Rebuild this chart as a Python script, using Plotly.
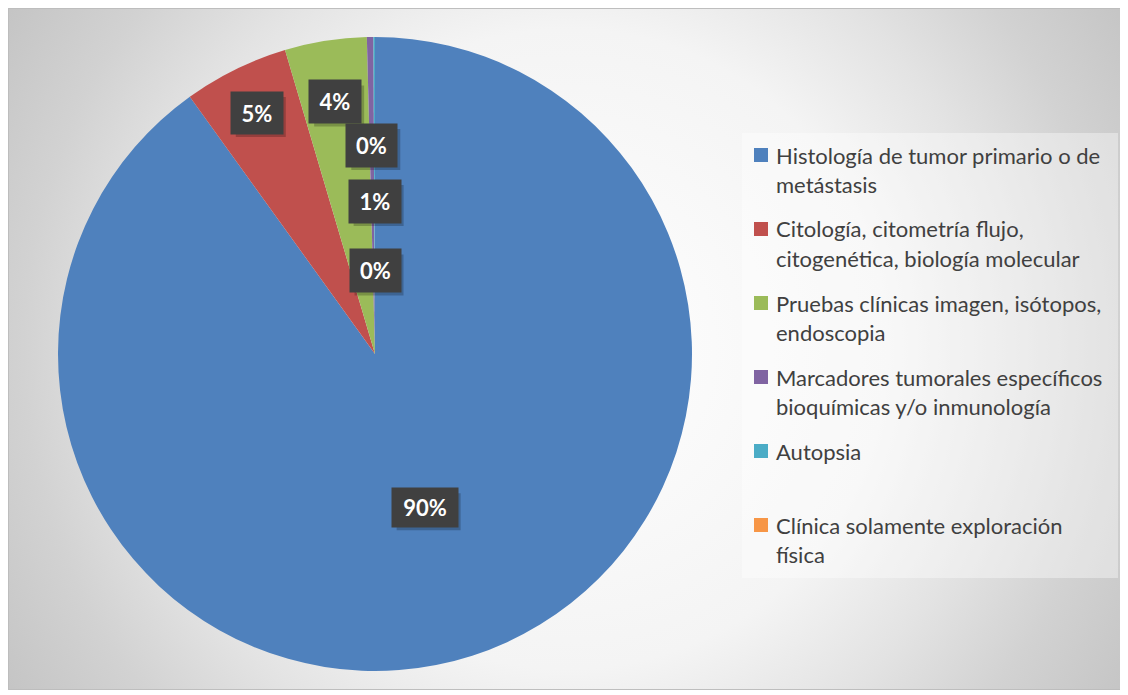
import math
import base64
import plotly.graph_objects as go

# ---------------- data ----------------
categories = [
    "Histología de tumor primario o de<br>metástasis",
    "Citología, citometría flujo,<br>citogenética, biología molecular",
    "Pruebas clínicas imagen, isótopos,<br>endoscopia",
    "Marcadores tumorales específicos<br>bioquímicas y/o inmunología",
    "Autopsia",
    "Clínica solamente exploración<br>física",
]
values = [90.07, 5.35, 4.17, 0.33, 0.08, 0.0]
label_text = ["90%", "5%", "4%", "0%", "1%", "0%"]
colors = ["#4F81BD", "#C0504D", "#9BBB59", "#8064A2", "#4BACC6", "#F79646"]

# ---------------- layout constants ----------------
W, H = 1120, 682
OFF = 8  # page body margin (screen coordinates below include it)
CX, CY, R = 375, 354, 317  # pie centre / radius in screen px
label_radius = [0.51, 0.847, 0.805, 0.658, 0.481, 0.262]
label_box = [(64, 37), (50, 40), (50, 41), (49, 41), (50, 41), (49, 41)]


def px(x):
    return (x - OFF) / W


def py(y):
    return 1 - (y - OFF) / H


fig = go.Figure()
fig.add_trace(go.Pie(
    labels=[c.replace("<br>", " ") for c in categories],
    values=values,
    marker=dict(colors=colors, line=dict(width=0)),
    sort=False,
    direction="clockwise",
    rotation=0,
    textinfo="none",
    hoverinfo="label+percent",
    showlegend=False,
    domain=dict(x=[px(CX - R), px(CX + R)], y=[py(CY + R), py(CY - R)]),
))

# background gradient (chart area)
svg = (
    f'<svg xmlns="http://www.w3.org/2000/svg" width="{W}" height="{H}">'
    '<defs><radialGradient id="g" gradientUnits="userSpaceOnUse" cx="560" cy="341" r="660">'
    '<stop offset="0" stop-color="#ffffff"/>'
    '<stop offset="0.485" stop-color="#f4f4f4"/>'
    '<stop offset="0.667" stop-color="#e3e3e3"/>'
    '<stop offset="0.826" stop-color="#d2d2d2"/>'
    '<stop offset="1" stop-color="#c4c4c4"/>'
    '</radialGradient></defs>'
    f'<rect width="{W}" height="{H}" fill="url(#g)"/></svg>'
)
src = "data:image/svg+xml;base64," + base64.b64encode(svg.encode()).decode()
fig.add_layout_image(dict(
    source=src, xref="paper", yref="paper",
    x=0, y=1, sizex=1, sizey=1,
    xanchor="left", yanchor="top", sizing="stretch", layer="below",
))

shapes = [
    dict(type="rect", xref="paper", yref="paper",
         x0=0.0004, x1=0.9996, y0=0.0007, y1=0.9993,
         line=dict(color="#bdbdbd", width=1), fillcolor="rgba(0,0,0,0)", layer="above"),
    dict(type="rect", xref="paper", yref="paper",
         x0=px(742), x1=px(1118), y0=py(578), y1=py(133),
         line=dict(width=0), fillcolor="rgba(255,255,255,0.38)", layer="below"),
]

annotations = []

# data labels computed from slice mid-angles
total = sum(values)
cum = 0.0
for i, v in enumerate(values):
    theta = math.radians(360.0 * (cum + v / 2) / total)
    cum += v
    lx = CX + label_radius[i] * R * math.sin(theta)
    ly = CY - label_radius[i] * R * math.cos(theta)
    bw, bh = label_box[i]
    # soft shadow behind the label box
    shapes.append(dict(
        type="rect", xref="paper", yref="paper", layer="above",
        x0=px(lx - bw / 2 + 4), x1=px(lx + bw / 2 + 4),
        y0=py(ly + bh / 2 + 4), y1=py(ly - bh / 2 + 4),
        fillcolor="rgba(0,0,0,0.22)", line=dict(width=0),
    ))
    annotations.append(dict(
        x=px(lx), y=py(ly), xref="paper", yref="paper", showarrow=False,
        xanchor="center", yanchor="middle", width=bw, height=bh,
        text="<b>" + label_text[i] + "</b>",
        font=dict(family="Lato", size=22, color="#ffffff"),
        bgcolor="#404040",
    ))

# legend (manual, to match spacing)
LEG_X, FIRST_Y, ITEM_STEP, LINE_STEP = 774, 155, 74, 29
for i, name in enumerate(categories):
    y0 = FIRST_Y + ITEM_STEP * i
    shapes.append(dict(
        type="rect", xref="paper", yref="paper",
        x0=px(754), x1=px(768), y0=py(y0 + 7), y1=py(y0 - 7),
        fillcolor=colors[i], line=dict(width=0),
    ))
    for j, line in enumerate(name.split("<br>")):
        annotations.append(dict(
            x=px(LEG_X), y=py(y0 + LINE_STEP * j), xref="paper", yref="paper",
            xanchor="left", yanchor="middle", showarrow=False, text=line,
            font=dict(family="Lato", size=22, color="#404040"),
        ))

fig.update_layout(
    width=W, height=H,
    margin=dict(l=0, r=0, t=0, b=0),
    paper_bgcolor="#ffffff",
    plot_bgcolor="rgba(0,0,0,0)",
    shapes=shapes,
    annotations=annotations,
    showlegend=False,
)

fig.write_html("out.html")
